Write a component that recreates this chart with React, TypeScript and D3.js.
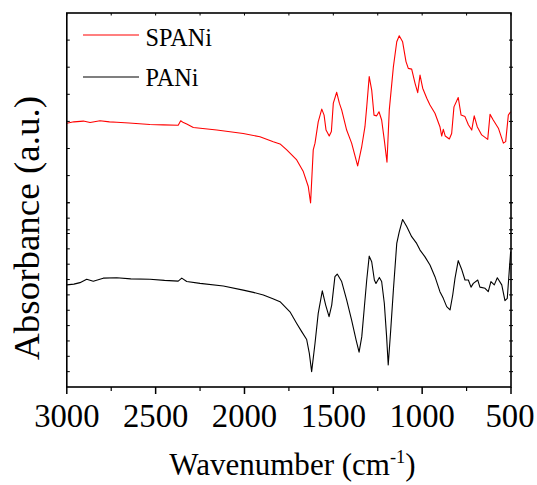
import React from "react";
import * as d3 from "d3";

// Wavenumber (cm-1) and absorbance (a.u., arbitrary offset units)
const spaniWave = [3000, 2960, 2907, 2869, 2813, 2760, 2719, 2650, 2532, 2457, 2373, 2359, 2344, 2325, 2288, 2156, 2007, 1913, 1838, 1800, 1762, 1706, 1669, 1641, 1628, 1613, 1603, 1585, 1565, 1552, 1541, 1523, 1511, 1500, 1481, 1466, 1453, 1425, 1397, 1363, 1340, 1322, 1312, 1298, 1284, 1271, 1256, 1243, 1228, 1213, 1198, 1185, 1162, 1143, 1129, 1110, 1091, 1078, 1059, 1040, 1025, 1012, 997, 974, 956, 928, 900, 890, 881, 870, 847, 834, 821, 797, 781, 759, 740, 721, 707, 690, 665, 631, 618, 600, 571, 543, 530, 515, 502];
const spaniAbs = [70.5, 70.9, 71.1, 70.7, 71.2, 70.9, 70.8, 70.6, 70.2, 70.1, 70.0, 71.2, 70.7, 70.3, 69.4, 68.7, 67.8, 66.9, 65.6, 65.0, 63.4, 60.7, 57.6, 53.6, 49.2, 63.4, 65.2, 70.9, 74.3, 72.7, 68.7, 67.1, 68.3, 75.9, 78.8, 75.9, 74.1, 68.7, 65.2, 59.1, 64.3, 69.6, 74.9, 83.0, 79.4, 72.7, 72.5, 73.6, 71.4, 66.0, 60.1, 74.1, 85.6, 92.3, 93.9, 92.3, 87.0, 85.2, 85.0, 81.2, 78.7, 83.4, 79.9, 77.2, 75.4, 73.2, 69.6, 67.1, 68.9, 67.1, 66.3, 67.8, 74.9, 77.4, 72.7, 72.3, 70.1, 68.7, 72.5, 69.6, 67.4, 66.2, 72.9, 71.4, 69.2, 65.2, 65.6, 72.7, 73.6];

const paniWave = [3000, 2960, 2926, 2888, 2851, 2795, 2719, 2640, 2532, 2450, 2373, 2353, 2325, 2250, 2119, 2007, 1950, 1894, 1840, 1800, 1744, 1706, 1678, 1650, 1635, 1622, 1603, 1585, 1562, 1543, 1524, 1509, 1491, 1478, 1453, 1425, 1397, 1372, 1355, 1340, 1326, 1312, 1298, 1284, 1269, 1260, 1241, 1228, 1213, 1200, 1191, 1177, 1162, 1143, 1129, 1110, 1087, 1059, 1031, 1012, 984, 956, 928, 900, 881, 862, 843, 828, 815, 797, 778, 759, 740, 725, 712, 687, 675, 646, 628, 613, 594, 577, 552, 534, 521, 502];
const paniAbs = [27.3, 27.5, 27.9, 28.8, 28.3, 29.1, 29.2, 28.9, 28.8, 28.5, 28.3, 29.1, 28.2, 27.7, 27.0, 25.9, 25.3, 24.6, 23.6, 22.8, 20.1, 17.0, 14.8, 12.7, 9.0, 4.1, 11.7, 19.7, 25.7, 21.9, 18.8, 21.9, 29.5, 30.2, 28.2, 23.3, 17.9, 12.6, 9.3, 13.4, 21.0, 28.6, 35.0, 33.5, 28.6, 27.7, 29.3, 28.2, 22.4, 13.4, 5.9, 15.2, 25.9, 38.4, 41.5, 44.8, 42.9, 40.2, 38.4, 36.6, 34.8, 32.6, 29.5, 25.5, 23.7, 21.5, 20.6, 24.6, 29.1, 33.8, 31.5, 28.6, 28.6, 26.7, 27.7, 28.6, 26.7, 26.4, 25.5, 28.2, 27.3, 29.2, 27.3, 23.1, 23.7, 36.2];

const xMajorTicks = [3000, 2500, 2000, 1500, 1000, 500];
const xMinorTicks = [2750, 2250, 1750, 1250, 750];
const upperTicks = [1, 2, 3, 4, 5, 6, 7, 8];
const lowerTicks = [1, 2, 3, 4, 5, 6, 7, 8, 9, 10, 11, 12];

const seriesNames = ["SPANi", "PANi"];
const seriesColors = ["#ff0000", "#000000"];

const W = 537;
const H = 485;
const left = 66.8;
const right = 511;
const top = 13;
const bottom = 387;
const FONT = "Liberation Serif, Times New Roman, serif";

export default function App() {
  const x = d3.scaleLinear().domain([3000, 500]).range([left, right]);
  const y = d3.scaleLinear().domain([0, 100]).range([bottom, top]);
  const upperScale = d3.scaleLinear().domain([0, 1]).range([top, top + 27.1]);
  const lowerScale = d3.scaleLinear().domain([0, 1]).range([bottom, bottom - 15.35]);

  const line = d3
    .line<[number, number]>()
    .x((d) => x(d[0]))
    .y((d) => y(d[1]))
    .curve(d3.curveLinear);

  const spani = spaniWave.map((w, i) => [w, spaniAbs[i]] as [number, number]);
  const pani = paniWave.map((w, i) => [w, paniAbs[i]] as [number, number]);

  const yTickPositions = [
    ...upperTicks.map((t) => upperScale(t)),
    ...lowerTicks.map((t) => lowerScale(t)),
  ];

  return (
    <svg
      width={W}
      height={H}
      style={{ position: "absolute", left: 0, top: 0, background: "#fff" }}
    >
      <rect x={0} y={0} width={W} height={H} fill="#fff" />
      <path d={line(spani) || ""} fill="none" stroke={seriesColors[0]} strokeWidth={1.1} strokeLinejoin="round" />
      <path d={line(pani) || ""} fill="none" stroke={seriesColors[1]} strokeWidth={1.1} strokeLinejoin="round" />

      {/* frame */}
      <rect x={left} y={top} width={right - left} height={bottom - top} fill="none" stroke="#000" strokeWidth={1.6} />

      {/* x ticks bottom */}
      {xMajorTicks.map((t) => (
        <line key={"M" + t} x1={x(t)} x2={x(t)} y1={bottom} y2={bottom + 7} stroke="#000" strokeWidth={1.5} />
      ))}
      {xMinorTicks.map((t) => (
        <line key={"m" + t} x1={x(t)} x2={x(t)} y1={bottom} y2={bottom + 4} stroke="#000" strokeWidth={1.2} />
      ))}
      {/* x ticks top */}
      {[...xMajorTicks, ...xMinorTicks].map((t) => (
        <line key={"T" + t} x1={x(t)} x2={x(t)} y1={top} y2={top + 2.5} stroke="#000" strokeWidth={1} />
      ))}
      {/* y ticks */}
      {yTickPositions.map((p, i) => (
        <g key={"Y" + i}>
          <line x1={left} x2={left + 3} y1={p} y2={p} stroke="#000" strokeWidth={1} />
          <line x1={right - 2} x2={right + 2} y1={p} y2={p} stroke="#000" strokeWidth={1} />
        </g>
      ))}

      {/* tick labels */}
      {xMajorTicks.map((t) => (
        <g key={"L" + t} transform={`translate(${Math.min(x(t), 510)}, 426.5) scale(0.99, 1)`}>
          <text x={0} y={0} textAnchor="middle" fontSize={33} fill="#000" fontFamily={FONT}>
            {t}
          </text>
        </g>
      ))}

      {/* axis titles */}
      <g transform="translate(292.5, 475) scale(0.97, 1)">
        <text x={0} y={0} textAnchor="middle" fontSize={32} fill="#000" fontFamily={FONT}>
          Wavenumber (cm
          <tspan dy={-12} fontSize={19}>-1</tspan>
          <tspan dy={12}>)</tspan>
        </text>
      </g>
      <g transform="translate(38.5, 228) rotate(-90) scale(1, 0.99)">
        <text x={0} y={0} textAnchor="middle" fontSize={37} fill="#000" fontFamily={FONT}>
          Absorbance (a.u.)
        </text>
      </g>

      {/* legend */}
      {seriesNames.map((n, i) => (
        <g key={n}>
          <line x1={83} x2={139} y1={35 + i * 42} y2={35 + i * 42} stroke={seriesColors[i]} strokeWidth={1.1} />
          <g transform={`translate(145.5, ${45.5 + i * 40}) scale(0.97, 1)`}>
            <text x={0} y={0} fontSize={25} fill="#000" fontFamily={FONT}>
              {n}
            </text>
          </g>
        </g>
      ))}
    </svg>
  );
}
